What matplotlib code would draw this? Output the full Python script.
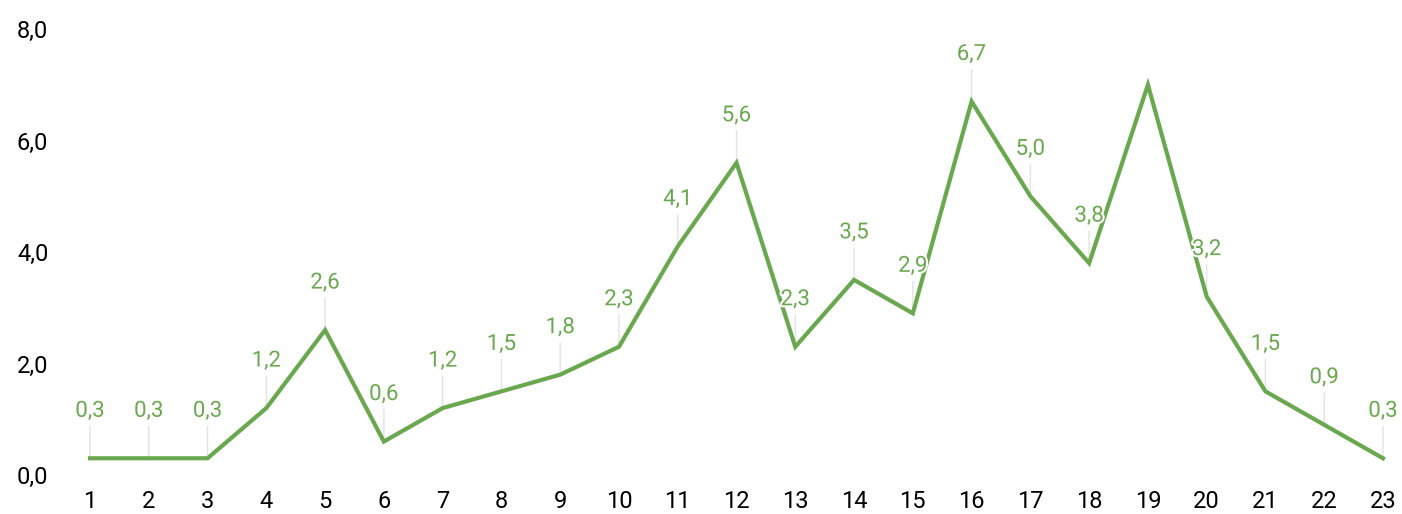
import matplotlib
matplotlib.use('Agg')
import matplotlib.pyplot as plt
import matplotlib.patheffects as pe

plt.rcParams['font.family'] = ['Roboto', 'DejaVu Sans']

# данные
days = list(range(1, 24))
values = [0.3, 0.3, 0.3, 1.2, 2.6, 0.6, 1.2, 1.5, 1.8, 2.3, 4.1, 5.6,
          2.3, 3.5, 2.9, 6.7, 5.0, 3.8, 7.0, 3.2, 1.5, 0.9, 0.3]
hidden_labels = [19]  # подпись у этой точки не показана
y_ticks = [0, 2, 4, 6, 8]

green = '#6aa84f'

fig = plt.figure(figsize=(14.02, 5.14), dpi=100)
ax = fig.add_axes([90 / 1402, 39 / 514, 1293 / 1402, 446 / 514])

ax.set_xlim(1, 23)
ax.set_ylim(0, 8)

# серые выноски от точки к подписи
for d, v in zip(days, values):
    if d in hidden_labels:
        continue
    ax.annotate('', xy=(d, v), xytext=(0, 32), textcoords='offset pixels',
                xycoords='data',
                arrowprops=dict(arrowstyle='-', color='#e3e3e3', lw=1,
                                shrinkA=0, shrinkB=0))

ax.plot(days, values, color=green, linewidth=3, solid_joinstyle='miter',
        zorder=3, clip_on=False)

for d, v in zip(days, values):
    if d in hidden_labels:
        continue
    ax.annotate(f'{v:.1f}'.replace('.', ','), (d, v),
                textcoords='offset pixels', xytext=(0, 47),
                ha='center', va='center', fontsize=16, color=green, zorder=4,
                path_effects=[pe.withStroke(linewidth=3, foreground='white')])

ax.set_xticks(days)
ax.set_xticklabels([str(d) for d in days])
ax.set_yticks(y_ticks)
ax.set_yticklabels([f'{t:.1f}'.replace('.', ',') for t in y_ticks])
ax.tick_params(axis='both', length=0, labelsize=17, colors='black')
ax.tick_params(axis='y', pad=30)
ax.tick_params(axis='x', pad=11)
for s in ax.spines.values():
    s.set_visible(False)

plt.savefig('out.png', dpi=100, facecolor='white')
plt.close()
